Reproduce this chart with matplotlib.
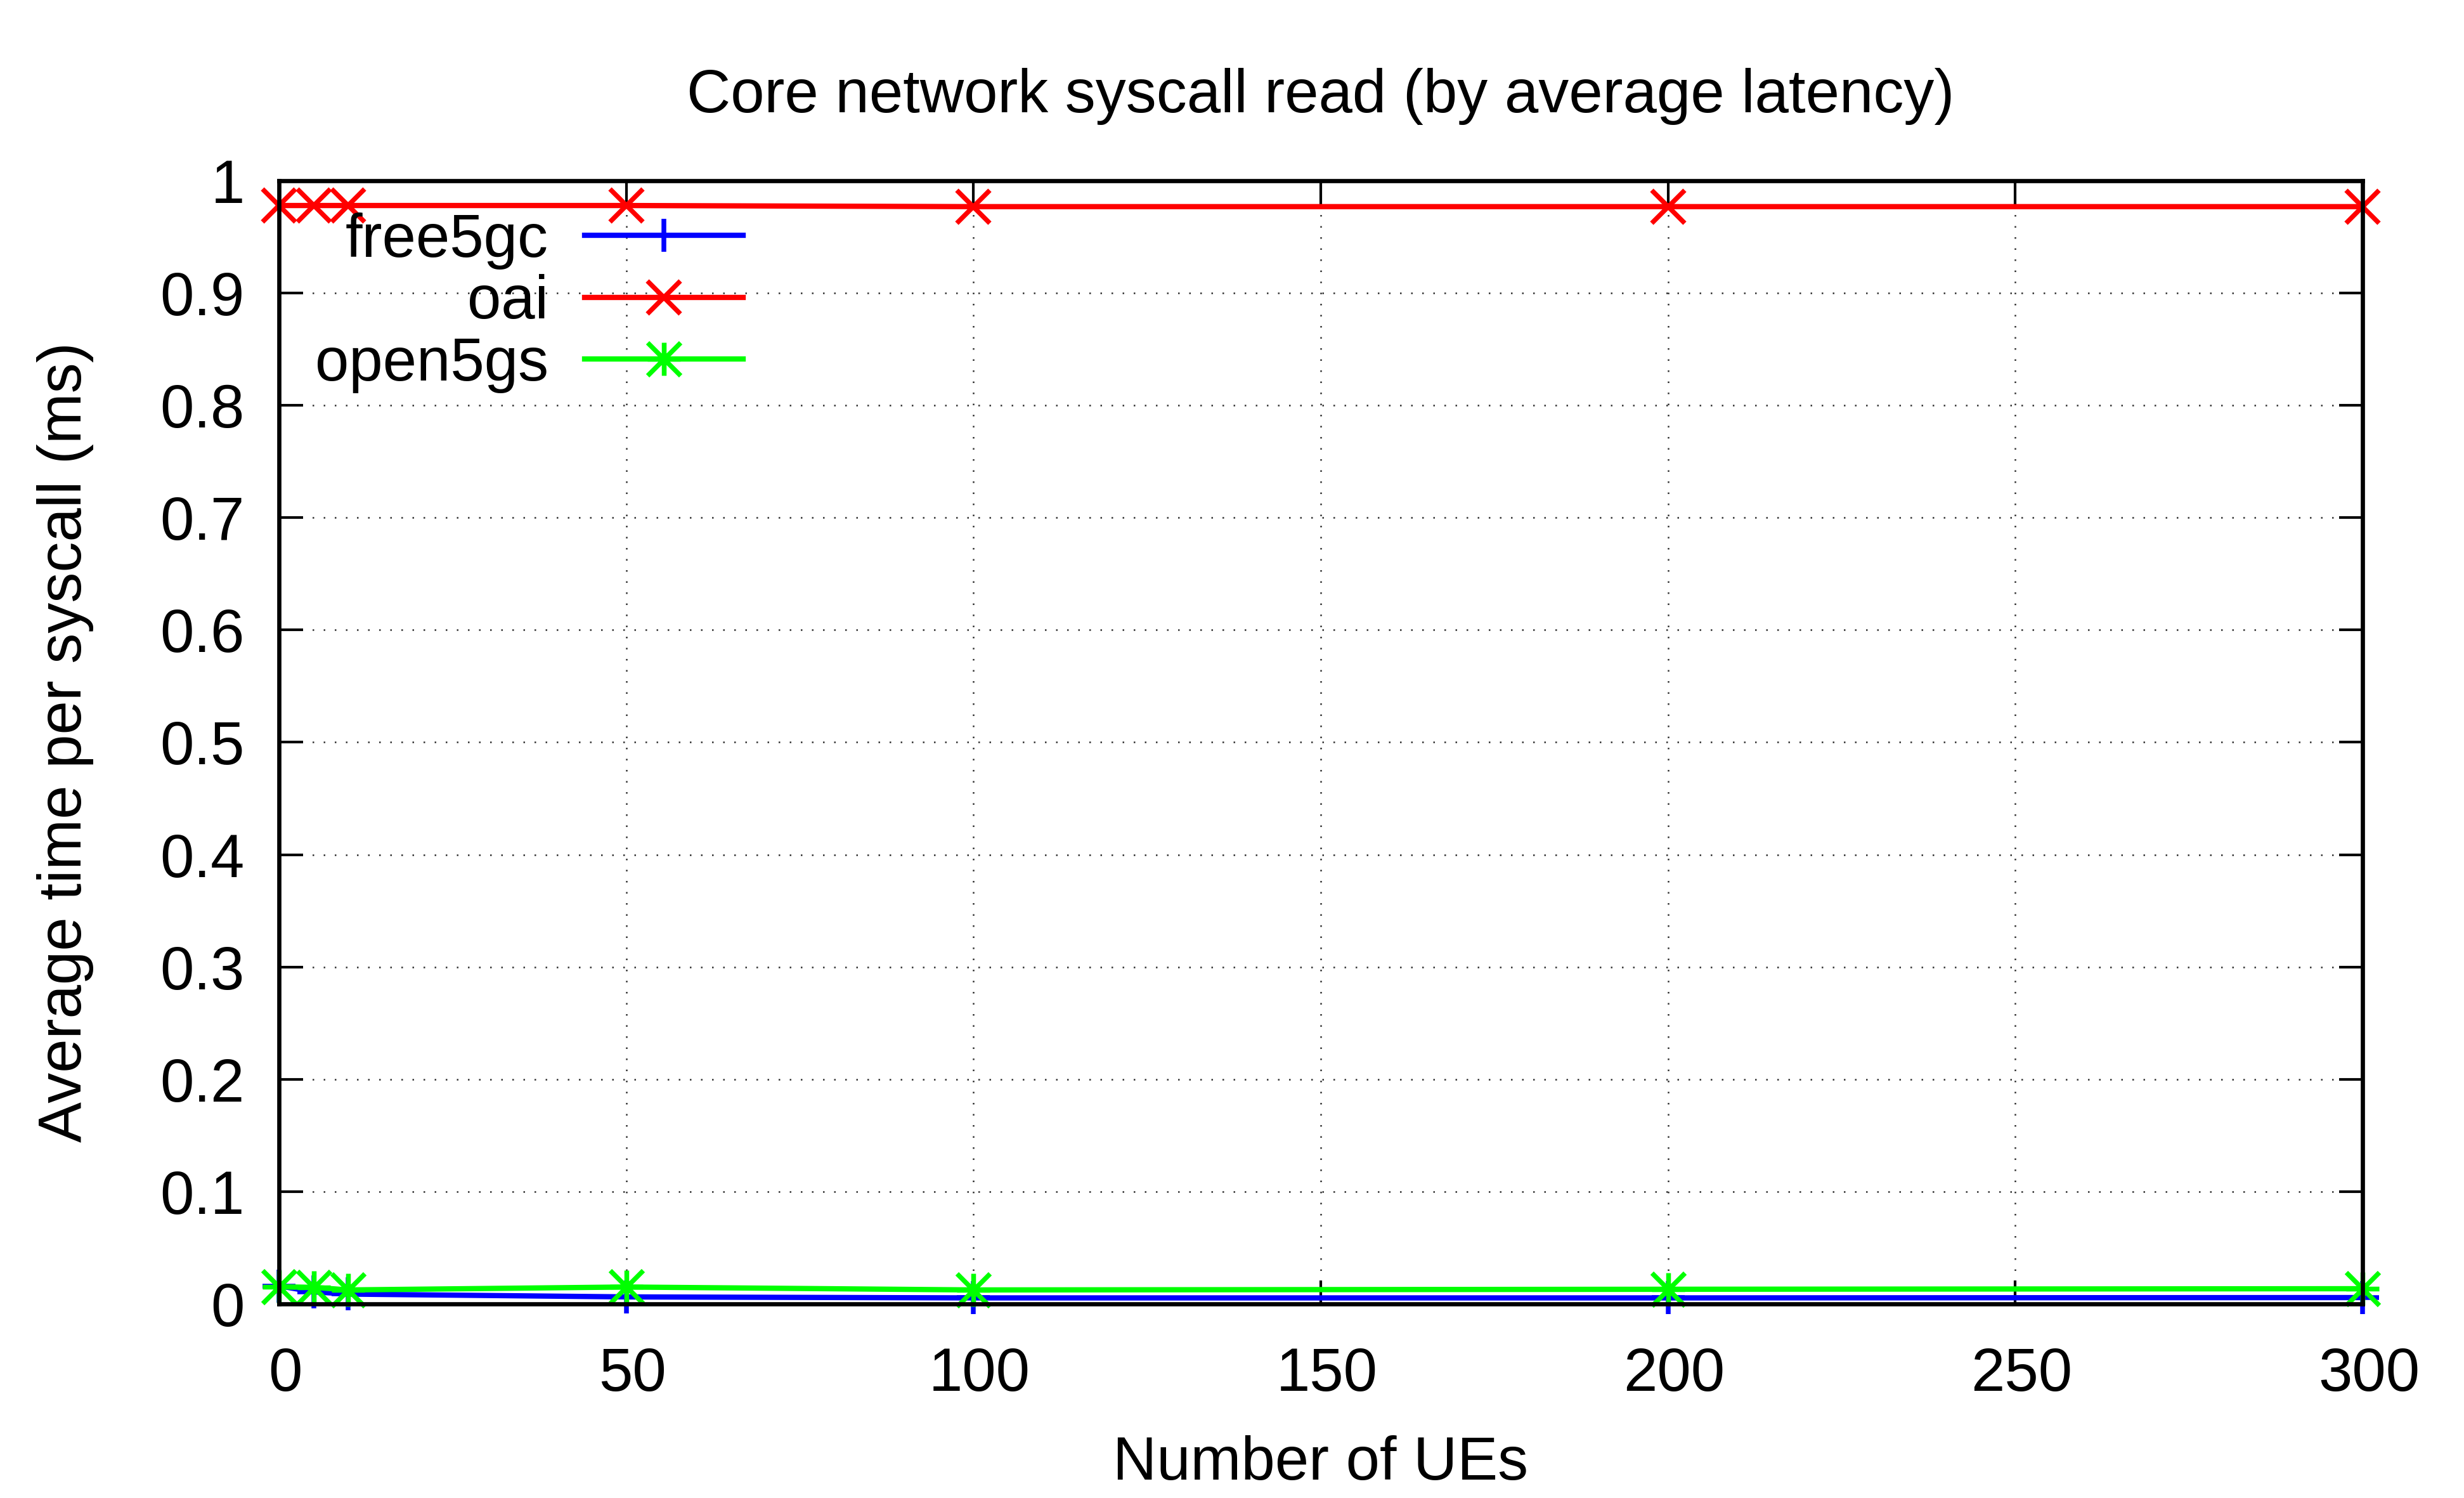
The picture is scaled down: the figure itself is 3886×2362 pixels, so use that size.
"""
Core network syscall read latency vs number of UEs (gnuplot-style look).
"""

import matplotlib
matplotlib.use("Agg")
import matplotlib.pyplot as plt
import matplotlib.transforms as mtransforms
from matplotlib.path import Path

# ── Data ─────────────────────────────────────────────────────────────
n_ues = [0, 5, 10, 50, 100, 200, 300]
free5gc = [0.016, 0.0107, 0.0087, 0.0062, 0.0053, 0.0053, 0.0056]
oai = [0.978, 0.978, 0.978, 0.978, 0.977, 0.977, 0.977]
open5gs = [0.0152, 0.0147, 0.0124, 0.0150, 0.0124, 0.0130, 0.0135]

x_ticks = [0, 50, 100, 150, 200, 250, 300]
y_ticks = [0, 0.1, 0.2, 0.3, 0.4, 0.5, 0.6, 0.7, 0.8, 0.9, 1]
y_tick_labels = ["0", "0.1", "0.2", "0.3", "0.4", "0.5", "0.6", "0.7", "0.8", "0.9", "1"]

# ── Style ────────────────────────────────────────────────────────────
plt.rcParams.update({
    "font.family": ["Liberation Sans", "DejaVu Sans"],
    "font.size": 23,
    "figure.facecolor": "white",
    "axes.facecolor": "white",
})

FS = 23
LW = 2.0
MS = 12.5

# gnuplot point type 3: "+" and "x" drawn on top of each other
ASTERISK = Path(
    [(-1, 0), (1, 0), (0, -1), (0, 1), (-1, -1), (1, 1), (-1, 1), (1, -1)],
    [Path.MOVETO, Path.LINETO] * 4,
)

fig = plt.figure(figsize=(3886 / 300, 2362 / 300), dpi=300)
ax = fig.add_axes([0.1132, 0.1296, 0.9588 - 0.1132, 0.8793 - 0.1296])

ax.plot(n_ues, free5gc, color="#0000ff", lw=LW, marker="+", ms=MS, mew=1.8,
        label="free5gc", clip_on=False, zorder=3)
ax.plot(n_ues, oai, color="#ff0000", lw=LW, marker="x", ms=MS, mew=1.8,
        label="oai", clip_on=False, zorder=3)
ax.plot(n_ues, open5gs, color="#00ff00", lw=LW, marker=ASTERISK, ms=MS, mew=1.8,
        label="open5gs", clip_on=False, zorder=4)

ax.set_xlim(0, 300)
ax.set_ylim(0, 1)
ax.set_xticks(x_ticks)
ax.set_yticks(y_ticks)
ax.set_yticklabels(y_tick_labels)

ax.tick_params(axis="both", which="major", direction="in", length=9, width=1.0,
               top=True, right=True, labelsize=FS)
ax.tick_params(axis="x", pad=16)
ax.tick_params(axis="y", pad=13)

# gnuplot puts the x tick labels a little right of the tick
shift = mtransforms.ScaledTranslation(10 / 300, 0, fig.dpi_scale_trans)
for lbl in ax.get_xticklabels():
    lbl.set_transform(lbl.get_transform() + shift)

for sp in ax.spines.values():
    sp.set_linewidth(1.6)
    sp.set_zorder(5)

ax.grid(True, which="major", color="#303030", linestyle=(0, (1, 6)), linewidth=0.6)
ax.set_axisbelow(True)

ax.set_title("Core network syscall read (by average latency)", fontsize=FS, pad=26)
ax.set_xlabel("Number of UEs", fontsize=FS, labelpad=12)
ax.set_ylabel("Average time per syscall (ms)", fontsize=FS, labelpad=25)

leg = ax.legend(loc="upper left", bbox_to_anchor=(0.0173, 0.972), frameon=False,
                markerfirst=False, fontsize=FS, handlelength=2.6,
                handletextpad=0.6, labelspacing=0.08, borderpad=0,
                borderaxespad=0)

fig.savefig("out.png", dpi=300)
